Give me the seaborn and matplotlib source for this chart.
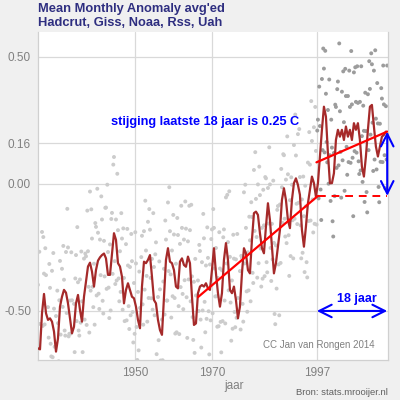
import numpy as np
import pandas as pd
import matplotlib
matplotlib.use("Agg")
import matplotlib.pyplot as plt
import seaborn as sns

# smoothed monthly anomaly (avg of 5 datasets), ~0.52 yr spacing
smooth = [
    -0.647, -0.651, -0.509, -0.433, -0.509, -0.535, -0.529, -0.542, -0.581, -0.660,
    -0.608, -0.483, -0.444, -0.417, -0.428, -0.470, -0.529, -0.588, -0.562, -0.470,
    -0.437, -0.496, -0.542, -0.444, -0.385, -0.325, -0.310, -0.345, -0.404, -0.339,
    -0.302, -0.289, -0.280, -0.274, -0.293, -0.358, -0.358, -0.274, -0.194, -0.220,
    -0.312, -0.325, -0.365, -0.470, -0.417, -0.391,
    -0.417, -0.444, -0.450, -0.483, -0.535, -0.568, -0.404, -0.306, -0.312, -0.299,
    -0.280, -0.365, -0.457, -0.470, -0.535, -0.575, -0.594, -0.444, -0.299, -0.253,
    -0.306, -0.312, -0.339, -0.404, -0.411, -0.306, -0.293, -0.319, -0.326, -0.286,
    -0.312, -0.444, -0.555, -0.549, -0.430, -0.404, -0.398, -0.404, -0.391, -0.411,
    -0.417, -0.339, -0.253,
    -0.352, -0.430, -0.483, -0.430, -0.299, -0.233, -0.299, -0.417, -0.430, -0.404,
    -0.457, -0.529, -0.483, -0.352, -0.253, -0.273, -0.339, -0.352, -0.220, -0.115,
    -0.109, -0.122, -0.194, -0.253, -0.273, -0.168, -0.076, -0.142, -0.247, -0.352,
    -0.312, -0.247, -0.181, -0.063, -0.017, -0.063, -0.142, -0.174, -0.063, 0.003,
    0.022, -0.004, -0.043, -0.181,
    -0.247, -0.168, -0.076, -0.024, 0.029, 0.003, -0.050, 0.003, 0.108, 0.213,
    0.304, 0.265, 0.121, 0.003, 0.003, 0.042, 0.173, 0.213, 0.186, 0.213,
    0.173, 0.226, 0.186, 0.213, 0.173, 0.239, 0.213, 0.239, 0.173, 0.068,
    0.029, 0.108, 0.213, 0.304, 0.311, 0.226, 0.147, 0.108, 0.147, 0.186,
    0.193, 0.206,
]
first_year, last_year = 1924.9, 2014.86

# monthly values scatter around the smoothed line (estimated offsets)
dev_a = [
    0.25, 0.10, 0.32, 0.08, 0.15, 0.05, 0.12, 0.20, 0.09, 0.14, 0.06, 0.18, 0.11, 0.04, 0.16,
    0.22, 0.07, 0.13, 0.09, 0.19, 0.05, 0.12, 0.08, 0.15, 0.10, 0.06, 0.28, 0.13, 0.09, 0.17,
    0.11, 0.07, 0.14, 0.05, 0.20, 0.09, 0.12, 0.16, 0.30, 0.08, 0.13, 0.06, 0.15, 0.10, 0.18, 0.07,
    0.09, 0.14, 0.06, 0.17, 0.11, 0.08, 0.20, 0.12, 0.05, 0.15, 0.10, 0.07, 0.13, 0.24, 0.09,
    0.16, 0.06, 0.11, 0.08, 0.18, 0.12, 0.05, 0.14, 0.09, 0.21, 0.07, 0.12, 0.10, 0.15, 0.06,
    0.13, 0.08, 0.17, 0.11, 0.05, 0.14, 0.09, 0.19, 0.07, 0.12, 0.10, 0.16, 0.08,
    0.10, 0.06, 0.15, 0.09, 0.12, 0.18, 0.07, 0.13, 0.05, 0.11, 0.16, 0.08, 0.14, 0.06, 0.22,
    0.10, 0.07, 0.13, 0.09, 0.17, 0.05, 0.12, 0.15, 0.08, 0.11, 0.19, 0.06, 0.14, 0.09, 0.12,
    0.07, 0.16, 0.10, 0.05, 0.13, 0.08, 0.18, 0.11, 0.06, 0.15, 0.09, 0.20, 0.07, 0.12,
    0.12, 0.08, 0.16, 0.10, 0.14, 0.22, 0.18, 0.25, 0.12, 0.20, 0.15, 0.09, 0.17, 0.11, 0.14,
    0.08, 0.13, 0.19, 0.10, 0.15, 0.07, 0.12, 0.16, 0.09, 0.14, 0.20, 0.11, 0.08, 0.15, 0.12,
    0.18, 0.10, 0.14, 0.07, 0.16, 0.22, 0.11, 0.13, 0.09, 0.15, 0.12, 0.10,
]
dev_b = [
    -0.08, -0.15, -0.05, -0.12, -0.20, -0.07, -0.10, -0.14, -0.06, -0.18, -0.09, -0.11, -0.04, -0.16, -0.08,
    -0.13, -0.06, -0.19, -0.10, -0.07, -0.14, -0.05, -0.12, -0.09, -0.17, -0.08, -0.11, -0.06, -0.15, -0.10,
    -0.13, -0.07, -0.18, -0.09, -0.12, -0.05, -0.14, -0.08, -0.11, -0.16, -0.06, -0.10, -0.13, -0.07, -0.12, -0.09,
    -0.10, -0.06, -0.14, -0.08, -0.12, -0.17, -0.07, -0.11, -0.05, -0.15, -0.09, -0.13, -0.06, -0.20, -0.08,
    -0.12, -0.10, -0.07, -0.16, -0.09, -0.05, -0.13, -0.11, -0.18, -0.07, -0.10, -0.14, -0.06, -0.12, -0.09,
    -0.15, -0.08, -0.11, -0.22, -0.07, -0.13, -0.10, -0.06, -0.14, -0.09, -0.12, -0.17, -0.08,
    -0.09, -0.13, -0.06, -0.11, -0.16, -0.08, -0.12, -0.05, -0.14, -0.10, -0.07, -0.18, -0.09, -0.12, -0.06,
    -0.15, -0.08, -0.11, -0.13, -0.07, -0.10, -0.19, -0.06, -0.12, -0.09, -0.14, -0.08, -0.11, -0.05, -0.16,
    -0.10, -0.07, -0.13, -0.09, -0.12, -0.17, -0.06, -0.11, -0.08, -0.14, -0.10, -0.07, -0.12, -0.09,
    -0.10, -0.14, -0.07, -0.12, -0.09, -0.16, -0.11, -0.06, -0.13, -0.08, -0.18, -0.10, -0.12, -0.07, -0.15,
    -0.09, -0.11, -0.14, -0.06, -0.12, -0.20, -0.08, -0.10, -0.13, -0.07, -0.11, -0.09, -0.15, -0.12, -0.06,
    -0.10, -0.14, -0.08, -0.11, -0.07, -0.13, -0.09, -0.12, -0.06, -0.10, -0.08, -0.11,
]
dev_c = [
    0.38, -0.22, 0.30, 0.18, -0.25, 0.22, -0.15, 0.27, -0.20, 0.24, 0.15, -0.28, 0.20, -0.18, 0.33,
    -0.12, 0.26, -0.24, 0.19, 0.30, -0.16, 0.23, -0.21, 0.17, 0.28, -0.26, 0.21, -0.14, 0.25, 0.32,
    -0.19, 0.24, -0.23, 0.18, 0.29, -0.17, 0.22, 0.35, -0.20, 0.26, -0.15, 0.21, 0.19, -0.27, 0.24, -0.18,
    0.22, -0.18, 0.26, -0.21, 0.19, 0.28, -0.15, 0.24, -0.23, 0.20, -0.17, 0.25, 0.18, -0.26, 0.23,
    -0.19, 0.21, 0.30, -0.16, 0.24, -0.22, 0.19, -0.25, 0.27, -0.18, 0.22, -0.20, 0.25, -0.28, 0.20,
    0.23, -0.17, 0.26, -0.21, 0.19, -0.24, 0.28, -0.18, 0.22, -0.26, 0.20, 0.24, -0.19,
    -0.21, 0.24, -0.18, 0.22, -0.25, 0.19, 0.27, -0.20, 0.23, -0.16, 0.26, -0.22, 0.20, -0.19, 0.25,
    -0.23, 0.21, 0.28, -0.17, 0.24, -0.26, 0.19, -0.21, 0.23, 0.30, -0.18, 0.22, -0.24, 0.26, -0.20,
    0.21, -0.27, 0.24, 0.18, -0.19, 0.25, -0.22, 0.20, -0.23, 0.27, -0.18, 0.22, -0.25, 0.21,
    0.24, -0.20, 0.28, 0.35, -0.22, 0.30, 0.26, 0.38, -0.25, 0.32, 0.22, -0.18, 0.29, 0.25, -0.21,
    0.27, 0.20, 0.34, -0.24, 0.23, 0.28, -0.19, 0.26, 0.31, -0.30, 0.22, 0.25, -0.20, 0.29, 0.24,
    0.33, -0.22, 0.27, 0.21, -0.26, 0.30, 0.25, -0.18, 0.23, 0.28, -0.21, 0.26,
]

# trend segments
trend_old_x = [1966.3, 1997.3]
trend_old_y = [-0.445, -0.047]
trend_new_x = [1996.9, 2015.2]
trend_new_y = [0.085, 0.206]
break_year = 1997.0

x_ticks = [1950, 1970, 1997]
y_ticks = [0.50, 0.16, 0.00, -0.50]
y_ticklabels = ["0.50", "0.16", "0.00", "-0.50"]

# ---- build frames
years = np.linspace(first_year, last_year, len(smooth))
df_line = pd.DataFrame({"jaar": years, "anomaly": smooth})
parts = []
for dev, shift in [(dev_a, 0.0), (dev_b, 0.17), (dev_c, 0.34)]:
    parts.append(pd.DataFrame({"jaar": years + shift,
                               "anomaly": np.array(smooth) + np.array(dev)}))
df_pts = pd.concat(parts, ignore_index=True)
df_pts["recent"] = df_pts["jaar"] >= break_year

sns.set_style("white")
plt.rcParams["font.family"] = ["Liberation Sans", "DejaVu Sans"]

fig = plt.figure(figsize=(4, 4), dpi=100, facecolor="#F0F0F0")
ax = fig.add_axes([0.095, 0.10, 0.875, 0.82])
ax.set_facecolor("white")

sns.scatterplot(data=df_pts, x="jaar", y="anomaly", hue="recent",
                palette={False: "#CCCCCC", True: "#9C9C9C"},
                s=8, linewidth=0, legend=False, ax=ax, zorder=2)
sns.lineplot(data=df_line, x="jaar", y="anomaly", color="#A52A2A",
             linewidth=1.6, ax=ax, zorder=3)

ax.plot(trend_old_x, trend_old_y, color="#FF0000", lw=1.6, zorder=4)
ax.plot([trend_old_x[1], trend_new_x[1]], [trend_old_y[1], trend_old_y[1]],
        color="#FF0000", lw=1.4, ls=(0, (4, 3)), zorder=4)
ax.plot(trend_new_x, trend_new_y, color="#FF0000", lw=1.6, zorder=4)

arrow = dict(arrowstyle="<->,head_length=0.9,head_width=0.45", color="#0000FF", lw=1.5,
             shrinkA=0, shrinkB=0)
ax.annotate("", xy=(trend_new_x[1], trend_new_y[1]), xytext=(trend_new_x[1], trend_old_y[1]),
            arrowprops=arrow, zorder=5)
ax.annotate("", xy=(break_year, -0.50), xytext=(trend_new_x[1], -0.50),
            arrowprops=arrow, zorder=5)

ax.text(1943.8, 0.245, "stijging laatste 18 jaar is 0.25 C", color="#0000FF",
        fontsize=9.2, fontweight="bold", ha="left", va="center", zorder=6)
ax.text(2007.4, -0.452, "18 jaar", color="#0000FF", fontsize=9,
        fontweight="bold", ha="center", va="center", zorder=6)
ax.text(2012.0, -0.634, "CC Jan van Rongen 2014", color="#808080", fontsize=7,
        ha="right", va="center", zorder=6)

ax.set_xlim(1924.9, 2015.4)
ax.set_ylim(-0.693, 0.598)
ax.set_xticks(x_ticks)
ax.set_yticks(y_ticks)
ax.set_yticklabels(y_ticklabels)
ax.grid(True, color="#D9D9D9", lw=0.9)
ax.set_axisbelow(True)
ax.tick_params(axis="both", colors="#C8C8C8", labelcolor="#808080", labelsize=8.5,
               length=3, width=0.8, direction="out", pad=2)
for side in ["left", "bottom", "right"]:
    ax.spines[side].set_color("#D0D0D0")
    ax.spines[side].set_linewidth(0.9)
ax.spines["top"].set_visible(False)
ax.set_xlabel("")
ax.set_ylabel("")

fig.text(0.095, 0.993, "Mean Monthly Anomaly avg'ed\nHadcrut, Giss, Noaa, Rss, Uah",
         color="#2E2E80", fontsize=9.3, fontweight="bold", ha="left", va="top",
         linespacing=1.2)
fig.text(0.585, 0.036, "jaar", color="#808080", fontsize=8.5, ha="center", va="center")
fig.text(0.97, 0.018, "Bron: stats.mrooijer.nl", color="#606060", fontsize=6.8,
         ha="right", va="center")

fig.savefig("out.png", dpi=100, facecolor=fig.get_facecolor())
